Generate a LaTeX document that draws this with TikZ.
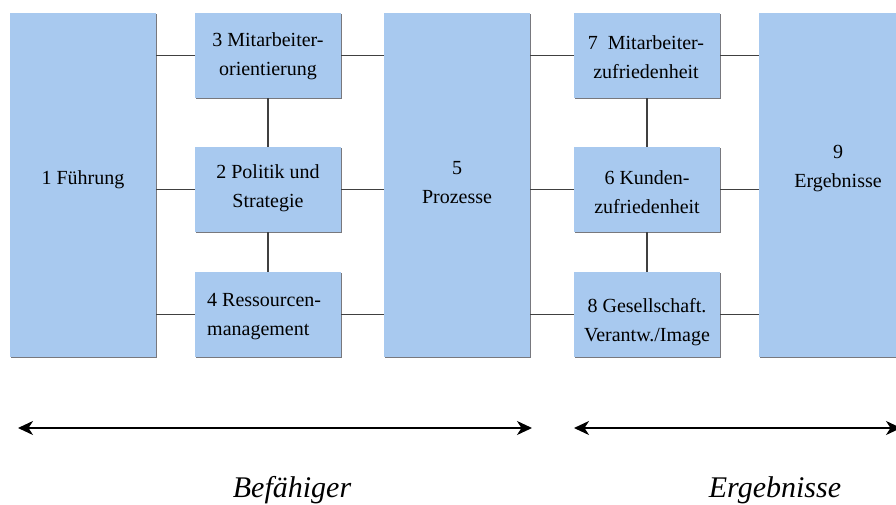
\documentclass[tikz,border=0pt]{standalone}
\usepackage{fontspec}
\setmainfont{Liberation Serif}
\usetikzlibrary{arrows.meta}
\definecolor{boxblue}{RGB}{168,201,239}
\definecolor{shadowgray}{RGB}{120,120,125}
\begin{document}
\begin{tikzpicture}[x=1pt,y=-1pt,
  box/.style={fill=boxblue, inner sep=0pt, minimum width=146pt,
    preaction={fill=shadowgray, transform canvas={xshift=1.3pt,yshift=-1.3pt}}},
  txt/.style={font=\fontsize{20}{29}\selectfont, align=center, inner sep=0pt},
  lab/.style={font=\fontsize{30}{30}\selectfont\itshape, inner sep=0pt},
  conn/.style={draw=black!75, line width=1.3pt},
  arr/.style={{Stealth[length=15pt,width=14pt,inset=4.5pt]}-{Stealth[length=15pt,width=14pt,inset=4.5pt]}, line width=1.8pt}]
\useasboundingbox (0,0) rectangle (896,505);
% boxes
\node[box, minimum height=344pt] (b1) at (83,185) {};
\node[box, minimum height=85pt] (b3) at (268,55.5) {};
\node[box, minimum height=85pt] (b2) at (268,189.5) {};
\node[box, minimum height=85pt] (b4) at (268,314.5) {};
\node[box, minimum height=344pt] (b5) at (457,185) {};
\node[box, minimum height=85pt] (b7) at (647,55.5) {};
\node[box, minimum height=85pt] (b6) at (647,189.5) {};
\node[box, minimum height=85pt] (b8) at (647,314.5) {};
\node[box, minimum height=344pt, minimum width=160pt] (b9) at (839,185) {};
% texts
\node[txt] (t1) at (83,179.4) {1 Führung};
\node[txt] (t3) at (268,56.7) {3 Mitarbeiter-\\orientierung};
\node[txt] (t2) at (268,188) {2 Politik und\\Strategie};
\node[txt, align=left, anchor=west] (t4) at (207,317) {4 Ressourcen-\\management};
\node[txt] (t5) at (457,183) {5\\Prozesse};
\node[txt] (t7) at (646,56.7) {7~~Mitarbeiter-\\zufriedenheit};
\node[txt] (t6) at (647,192) {6 Kunden-\\zufriedenheit};
\node[txt] (t8) at (647,322) {8 Gesellschaft.\\Verantw./Image};
\node[txt] (t9) at (838,169) {9\\Ergebnisse};
% connectors left
\draw[conn] (b3.west -| b1.east) -- (b3.west);
\draw[conn] (b2.west -| b1.east) -- (b2.west);
\draw[conn] (b4.west -| b1.east) -- (b4.west);
\draw[conn] (b3.east) -- (b3.east -| b5.west);
\draw[conn] (b2.east) -- (b2.east -| b5.west);
\draw[conn] (b4.east) -- (b4.east -| b5.west);
\draw[conn] (b3.south) -- (b2.north);
\draw[conn] (b2.south) -- (b4.north);
% connectors right
\draw[conn] (b7.west -| b5.east) -- (b7.west);
\draw[conn] (b6.west -| b5.east) -- (b6.west);
\draw[conn] (b8.west -| b5.east) -- (b8.west);
\draw[conn] (b7.east) -- (b7.east -| b9.west);
\draw[conn] (b6.east) -- (b6.east -| b9.west);
\draw[conn] (b8.east) -- (b8.east -| b9.west);
\draw[conn] (b7.south) -- (b6.north);
\draw[conn] (b6.south) -- (b8.north);
% arrows
\coordinate (a1) at (18,428);
\coordinate (a2) at (532,428);
\coordinate (a3) at (574,428);
\coordinate (a4) at (901,428);
\draw[arr] (a1) -- (a2);
\draw[arr] (a3) -- (a4);
% labels
\node[lab] (l1) at (292,490) {Befähiger};
\node[lab] (l2) at (775,490) {Ergebnisse};
\end{tikzpicture}
\end{document}
